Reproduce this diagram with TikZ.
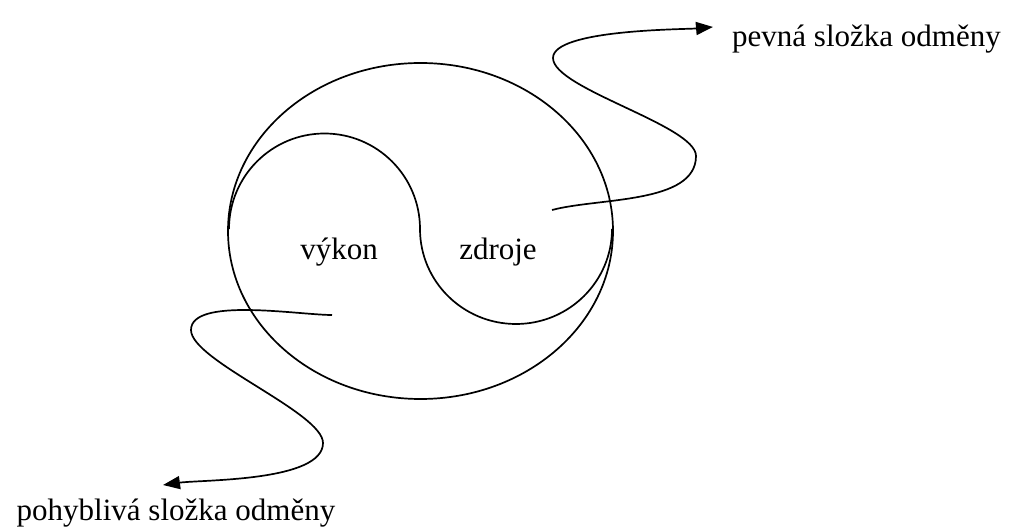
\documentclass[tikz,border=0pt]{standalone}
\usepackage{fontspec}
\setmainfont{Liberation Serif}
\usetikzlibrary{arrows.meta}

\begin{document}
\begin{tikzpicture}[x=1pt, y=1pt,
  outline/.style={line width=1.7pt},
  pointer/.style={line width=1.7pt, -{Triangle[length=17pt,width=13pt]}},
  word/.style={font=\fontsize{31}{37}\selectfont, inner sep=0pt}
]
\useasboundingbox (0,0) rectangle (1011,527);
\draw[outline] (420.5,296) ellipse [x radius=192.5, y radius=168];
\draw[outline] (229,298) arc[start angle=180, end angle=0, radius=95.5]
  arc[start angle=180, end angle=360, x radius=96, y radius=95];

\node[word, anchor=base] (vykon) at (339,267) {výkon};
\node[word, anchor=base] (zdroje) at (498,267) {zdroje};
\node[word, anchor=base west] (pevna) at (732,480) {pevná složka odměny};
\node[word, anchor=base] (pohybliva) at (176,7) {pohyblivá složka odměny};

\coordinate (zstart) at (552,317);
\coordinate (zright) at (696,371);
\coordinate (zleft) at (553,469);
\coordinate (ztip) at (713,500);
\draw[pointer] (zstart) to[out=15,in=-90,looseness=0.8] (zright)
  to[out=90,in=-90,looseness=0.45] (zleft)
  to[out=90,in=185,looseness=0.45] (ztip);

\coordinate (vstart) at (332,212);
\coordinate (vleft) at (191,197);
\coordinate (vright) at (323,84);
\coordinate (vtip) at (163,42);
\draw[pointer] (vstart) to[out=180,in=90,looseness=0.6] (vleft)
  to[out=-90,in=90,looseness=0.45] (vright)
  to[out=-90,in=8,looseness=0.6] (vtip);
\end{tikzpicture}
\end{document}
